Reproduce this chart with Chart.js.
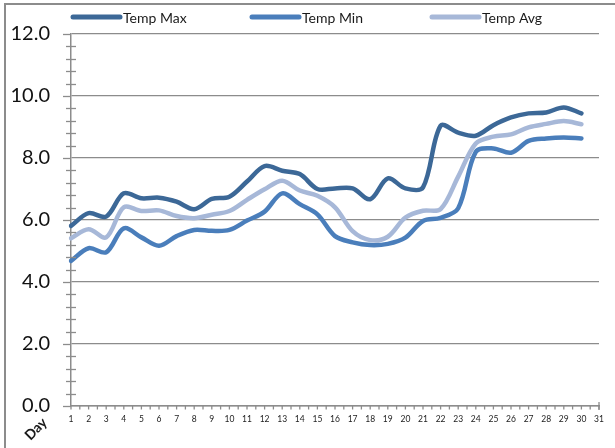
<!DOCTYPE html>
<html>
<head>
<meta charset="utf-8">
<script src="https://cdn.jsdelivr.net/npm/chart.js@4.4.1/dist/chart.umd.min.js"></script>
<style>
  html, body { margin: 0; padding: 0; background: #ffffff; }
  #wrap { position: relative; width: 615px; height: 448px; }
  canvas { display: block; }
</style>
</head>
<body>
<div id="wrap"><canvas id="c" width="615" height="448"></canvas></div>
<script>
// ---- data ----
const dayLabels = ['1','2','3','4','5','6','7','8','9','10','11','12','13','14','15','16','17','18','19','20','21','22','23','24','25','26','27','28','29','30','31'];
const tempMax = [5.81, 6.22, 6.11, 6.86, 6.70, 6.72, 6.59, 6.35, 6.68, 6.75, 7.24, 7.74, 7.59, 7.48, 7.00, 7.02, 7.02, 6.67, 7.34, 7.02, 7.05, 9.04, 8.82, 8.72, 9.06, 9.31, 9.44, 9.47, 9.63, 9.44];
const tempMin = [4.68, 5.09, 4.96, 5.73, 5.44, 5.17, 5.48, 5.68, 5.65, 5.68, 5.98, 6.27, 6.86, 6.51, 6.18, 5.48, 5.28, 5.19, 5.23, 5.43, 5.97, 6.07, 6.38, 8.20, 8.31, 8.17, 8.55, 8.63, 8.66, 8.63];
const tempAvg = [5.41, 5.70, 5.44, 6.41, 6.29, 6.31, 6.13, 6.06, 6.17, 6.29, 6.65, 6.99, 7.27, 6.95, 6.78, 6.41, 5.64, 5.35, 5.46, 6.08, 6.30, 6.35, 7.40, 8.47, 8.69, 8.76, 8.99, 9.10, 9.19, 9.09];
const seriesNames = ['Temp Max', 'Temp Min', 'Temp Avg'];
const yTickLabels = ['0.0','2.0','4.0','6.0','8.0','10.0','12.0'];
const axisTitle = 'Day';

const colors = ['#3C6897', '#4A7EBB', '#A7B8D8'];
const gridGray = '#8C8C8C';

// frame, tick marks, legend and axis title
const decor = {
  id: 'decor',
  beforeDraw(chart) {
    const ctx = chart.ctx;
    ctx.save();
    ctx.strokeStyle = '#8C8C8C';
    ctx.lineWidth = 2;
    ctx.strokeRect(5, 4, 700, 700);
    ctx.restore();
  },
  afterDraw(chart) {
    const ctx = chart.ctx;
    const ys = chart.scales.y, xs = chart.scales.x;
    const ax = chart.chartArea.left, bottom = chart.chartArea.bottom;
    ctx.save();
    ctx.strokeStyle = gridGray;
    ctx.lineWidth = 1.3;
    // y ticks
    for (let i = 0; i <= 30; i++) {
      const v = i * 0.4;
      const py = Math.round(ys.getPixelForValue(v)) + 0.5;
      ctx.beginPath();
      if (i % 5 === 0) { ctx.moveTo(ax - 8, py); ctx.lineTo(ax, py); }
      else { ctx.moveTo(ax - 5, py); ctx.lineTo(ax + 5, py); }
      ctx.stroke();
    }
    // x ticks at categories and midpoints
    for (let i = 0; i < dayLabels.length; i++) {
      const px = xs.getPixelForValue(i);
      ctx.beginPath(); ctx.moveTo(px, bottom); ctx.lineTo(px, bottom + 3.5); ctx.stroke();
      if (i < dayLabels.length - 1) {
        const mx = (px + xs.getPixelForValue(i + 1)) / 2;
        ctx.beginPath(); ctx.moveTo(mx, bottom); ctx.lineTo(mx, bottom + 3.5); ctx.stroke();
      }
    }
    const last = xs.getPixelForValue(dayLabels.length - 1);
    ctx.beginPath(); ctx.moveTo(last, bottom - 4); ctx.lineTo(last, bottom + 4); ctx.stroke();

    // legend
    const legendX = [73, 252, 432];
    const ly = 17;
    ctx.font = '14px Lato';
    ctx.textBaseline = 'middle';
    ctx.textAlign = 'left';
    chart.data.datasets.forEach((ds, i) => {
      ctx.strokeStyle = ds.borderColor;
      ctx.lineWidth = 5;
      ctx.lineCap = 'round';
      ctx.beginPath(); ctx.moveTo(legendX[i], ly); ctx.lineTo(legendX[i] + 47, ly); ctx.stroke();
      ctx.fillStyle = '#1a1a1a';
      ctx.fillText(ds.label, legendX[i] + 50, ly + 1);
    });

    // axis title
    ctx.translate(36, 429);
    ctx.rotate(-45 * Math.PI / 180);
    ctx.font = 'bold 14px Lato';
    ctx.fillStyle = '#1a1a1a';
    ctx.textAlign = 'center';
    ctx.fillText(axisTitle, 0, 0);
    ctx.restore();
  }
};

const series = [tempMax, tempMin, tempAvg];
new Chart(document.getElementById('c'), {
  type: 'line',
  data: {
    labels: dayLabels,
    datasets: series.map((d, i) => ({
      label: seriesNames[i],
      data: d,
      borderColor: colors[i],
      backgroundColor: colors[i],
      borderWidth: 4.5,
      pointRadius: 0,
      tension: 0.33,
      borderCapStyle: 'round',
      borderJoinStyle: 'round',
      fill: false
    }))
  },
  options: {
    responsive: false,
    animation: false,
    devicePixelRatio: 1,
    layout: { padding: { top: 34, right: 16, bottom: 0, left: 0 } },
    plugins: { legend: { display: false }, tooltip: { enabled: false } },
    scales: {
      x: {
        type: 'category',
        offset: false,
        grid: { display: false, drawTicks: false },
        border: { display: true, color: gridGray, width: 1.5 },
        ticks: { autoSkip: false, maxRotation: 0, minRotation: 0, padding: 8,
                 color: '#222', font: { family: 'Lato', size: 8.5 } },
        afterFit(s) { s.height = 42; }
      },
      y: {
        min: 0, max: 12,
        grid: { color: gridGray, lineWidth: 1.3, drawTicks: false },
        border: { display: true, color: gridGray, width: 1.5 },
        ticks: { stepSize: 2, padding: 21, color: '#111',
                 font: { family: 'Lato', size: 20 },
                 callback: (v, i) => yTickLabels[i] },
        afterFit(s) { s.width = 71; }
      }
    }
  },
  plugins: [decor]
});
</script>
</body>
</html>
